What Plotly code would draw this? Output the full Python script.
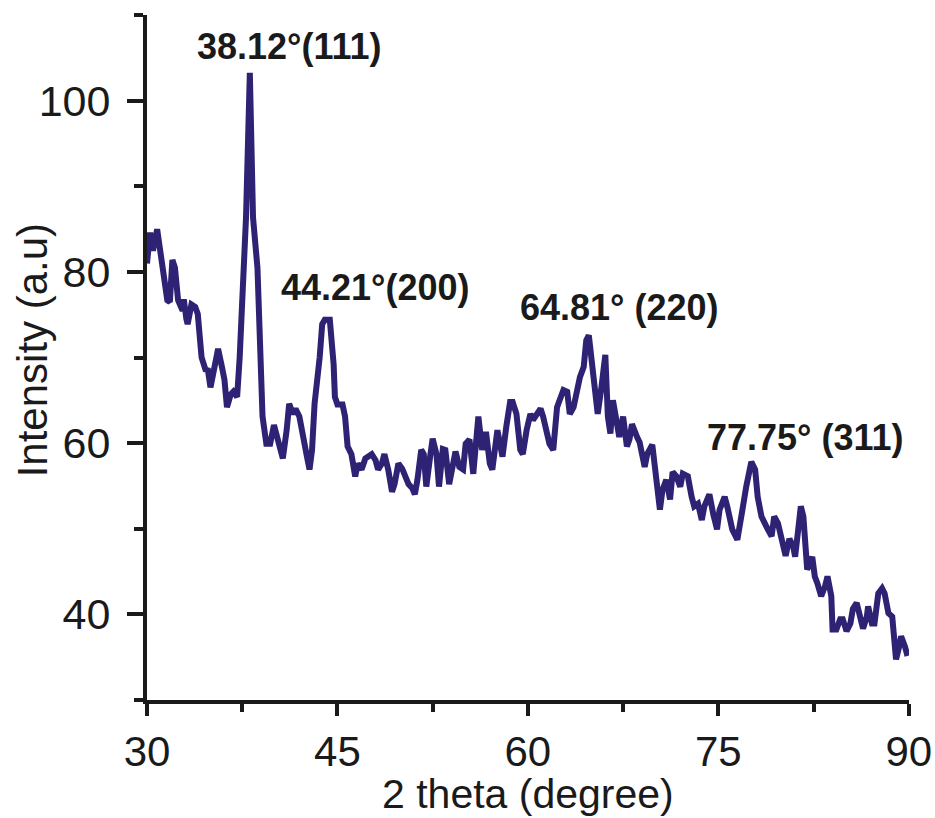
import plotly.graph_objects as go

two_theta = [
    30.0, 30.24, 30.47, 30.8, 31.0, 31.6, 31.8, 32.0, 32.2, 32.45, 32.8, 32.9, 33.1, 33.2, 33.5, 33.8, 34.0,
    34.3, 34.6, 34.8, 35.0, 35.4, 35.6, 35.9, 36.1, 36.3, 36.6, 36.8, 37.1, 37.3, 37.6, 37.8, 38.1,
    38.35, 38.7, 38.9, 39.1, 39.4, 39.7, 40.0, 40.2, 40.5, 40.7, 41.0, 41.2, 41.5, 41.7, 42.0, 42.3,
    42.6, 42.8, 43.0, 43.2, 43.4, 43.6, 43.8, 44.0, 44.4, 44.7, 44.8, 45.0, 45.4, 45.6, 45.8, 46.1,
    46.4, 46.6, 46.9, 47.2, 47.4, 47.7, 48.0, 48.2, 48.5, 48.7, 49.0, 49.3, 49.5, 49.8, 50.1, 50.3,
    50.6, 50.9, 51.1, 51.3, 51.6, 51.8, 52.0, 52.3, 52.5, 52.8, 53.0, 53.3, 53.5, 53.8, 54.1, 54.3,
    54.6, 54.9, 55.1, 55.4, 55.7, 55.9, 56.1, 56.4, 56.7, 57.0, 57.2, 57.6, 57.8, 58.0, 58.3, 58.6,
    58.8, 59.1, 59.4, 59.6, 59.9, 60.2, 60.4, 60.7, 61.0, 61.2, 61.5, 61.7, 62.0, 62.3, 62.5, 62.8,
    63.1, 63.3, 63.6, 63.9, 64.1, 64.4, 64.6, 64.8, 65.0, 65.3, 65.5, 65.8, 66.1, 66.3, 66.5, 66.7,
    67.0, 67.2, 67.5, 67.8, 68.0, 68.2, 68.6, 68.8, 69.2, 69.4, 69.8, 70.2, 70.4, 70.6, 70.9, 71.2,
    71.4, 71.7, 72.0, 72.2, 72.6, 72.9, 73.1, 73.4, 73.7, 73.9, 74.3, 74.6, 74.9, 75.1, 75.5, 75.7,
    76.1, 76.5, 76.7, 76.9, 77.2, 77.6, 77.9, 78.1, 78.4, 78.7, 78.9, 79.2, 79.4, 79.7, 80.0, 80.3,
    80.6, 80.9, 81.05, 81.3, 81.5, 81.7, 81.9, 82.0, 82.4, 82.6, 82.8, 83.1, 83.4, 83.6, 83.9, 84.0,
    84.3, 84.6, 84.8, 85.1, 85.4, 85.6, 85.9, 86.1, 86.4, 86.7, 86.8, 87.1, 87.3, 87.6, 87.9, 88.1,
    88.4, 88.7, 89.0, 89.2, 89.4, 89.7, 89.9,
]

intensity = [
    81.0, 84.6, 82.5, 85.0, 82.9, 76.7, 76.5, 81.4, 80.5, 76.7, 75.5, 76.8, 74.5, 73.9, 76.2, 75.9, 75.1,
    70.0, 68.6, 68.5, 66.5, 70.0, 71.0, 68.9, 67.4, 64.2, 65.7, 66.0, 65.4, 70.0, 78.6, 86.4, 103.3,
    86.4, 80.5, 70.9, 63.1, 59.9, 59.9, 62.1, 61.1, 59.2, 58.2, 61.5, 64.6, 63.4, 64.0, 63.1, 61.1,
    58.4, 56.9, 59.2, 64.6, 66.9, 70.0, 73.9, 74.4, 74.4, 69.2, 65.4, 64.5, 64.5, 63.1, 59.6, 58.7,
    56.1, 57.6, 56.9, 58.2, 58.4, 58.7, 58.0, 56.9, 57.6, 58.7, 56.9, 54.3, 55.2, 57.6, 57.0, 56.4,
    55.2, 54.7, 54.0, 55.7, 59.2, 58.7, 54.9, 58.4, 60.5, 58.7, 54.9, 59.3, 59.2, 55.2, 57.2, 59.0,
    57.2, 56.9, 59.9, 60.4, 56.4, 60.7, 63.1, 59.2, 61.3, 57.6, 56.9, 61.5, 59.9, 58.4, 61.9, 64.8,
    64.8, 63.4, 59.2, 58.7, 61.5, 63.4, 62.7, 63.4, 64.0, 63.1, 61.5, 59.9, 59.2, 64.2, 65.0, 66.2,
    66.0, 63.4, 64.2, 66.9, 67.7, 68.9, 72.0, 72.6, 70.0, 65.0, 63.4, 66.6, 70.3, 63.1, 61.1, 65.0,
    62.2, 60.7, 63.1, 59.6, 60.4, 62.2, 60.7, 60.1, 57.2, 58.7, 59.8, 55.5, 52.2, 54.5, 55.7, 53.4,
    56.6, 56.1, 54.9, 56.4, 56.1, 53.7, 52.6, 52.9, 51.0, 52.6, 54.0, 51.7, 49.9, 52.2, 53.7, 52.6,
    49.9, 48.7, 51.0, 52.2, 54.9, 57.8, 56.9, 53.7, 51.4, 50.2, 49.9, 49.1, 51.4, 50.6, 48.9, 46.8,
    48.8, 47.9, 46.7, 49.9, 52.6, 51.4, 47.1, 45.2, 46.7, 44.4, 43.6, 42.1, 43.2, 44.4, 42.1, 38.2,
    38.2, 39.4, 39.4, 38.0, 38.9, 40.6, 41.3, 40.1, 38.3, 39.7, 40.9, 38.9, 38.9, 42.4, 43.0, 42.4,
    40.1, 39.7, 34.7, 35.9, 37.4, 36.2, 35.1,
]

peak_labels = ["38.12°(111)", "44.21°(200)", "64.81° (220)", "77.75° (311)"]
peak_label_x = [41.2, 48.0, 67.2, 81.9]
peak_label_y = [106.4, 78.2, 75.9, 60.7]

x_tick_vals = [30, 45, 60, 75, 90]
y_tick_vals = [40, 60, 80, 100]

x_title = "2 theta (degree)"
y_title = "Intensity (a.u)"

FONT = "Liberation Sans, Arial, sans-serif"
INK = "#1a1a1a"
LINE = "#2d2273"

fig = go.Figure()
fig.add_trace(go.Scatter(
    x=two_theta, y=intensity, mode="lines",
    line=dict(color=LINE, width=6),
    showlegend=False, hoverinfo="skip",
))

for txt, lx, ly in zip(peak_labels, peak_label_x, peak_label_y):
    fig.add_annotation(
        x=lx, y=ly, xref="x", yref="y", text="<b>%s</b>" % txt,
        showarrow=False, font=dict(family=FONT, size=36, color=INK),
        xanchor="center", yanchor="middle",
    )

# axis titles as paper-positioned annotations for exact placement
fig.add_annotation(
    x=0.5, y=-0.137, xref="paper", yref="paper", text=x_title,
    showarrow=False, font=dict(family=FONT, size=41, color=INK),
    xanchor="center", yanchor="middle",
)
fig.add_annotation(
    x=-0.15, y=0.51, xref="paper", yref="paper", text=y_title, textangle=-90,
    showarrow=False, font=dict(family=FONT, size=42, color=INK),
    xanchor="center", yanchor="middle",
)

fig.update_layout(
    width=935, height=818,
    margin=dict(l=147, r=26, t=15, b=118),
    paper_bgcolor="white", plot_bgcolor="white",
    font=dict(family=FONT, color=INK),
)

fig.update_xaxes(
    range=[30, 90.02], tickmode="array", tickvals=x_tick_vals,
    ticktext=[str(v) for v in x_tick_vals],
    showgrid=False, zeroline=False, automargin=False,
    showline=True, linecolor=INK, linewidth=4,
    ticks="outside", ticklen=12, tickwidth=4, tickcolor=INK,
    minor=dict(dtick=7.5, tick0=30, ticks="outside", ticklen=8, tickwidth=4, tickcolor=INK, showgrid=False),
    tickfont=dict(family=FONT, size=42, color=INK),
)

fig.update_yaxes(
    range=[29.95, 110.05], tickmode="array", tickvals=y_tick_vals,
    ticktext=[str(v) for v in y_tick_vals],
    showgrid=False, zeroline=False, automargin=False,
    showline=True, linecolor=INK, linewidth=4,
    ticks="outside", ticklen=16, tickwidth=4, tickcolor=INK,
    minor=dict(dtick=10, tick0=30, ticks="outside", ticklen=9, tickwidth=4, tickcolor=INK, showgrid=False),
    tickfont=dict(family=FONT, size=43, color=INK),
    ticklabelstandoff=8,
)

fig.write_html(
    "out.html",
    config={"displayModeBar": False},
    post_script="document.body.style.margin='0';document.body.style.overflow='hidden';",
)
